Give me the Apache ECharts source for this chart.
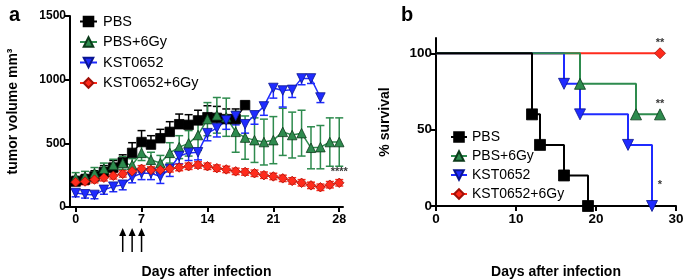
<!DOCTYPE html>
<html>
<head>
<meta charset="utf-8">
<script src="https://cdn.jsdelivr.net/npm/echarts@6/dist/echarts.min.js"></script>
<style>
html, body { margin: 0; padding: 0; background: #fff; }
#chart { width: 685px; height: 279px; }
</style>
</head>
<body>
<div id="chart"></div>
<script>
const groups = ['PBS', 'PBS+6Gy', 'KST0652', 'KST0652+6Gy']

// panel a: tumor volume (mm3), one value per day starting at day 0
const pbsVol = [200, 215, 240, 275, 310, 350, 425, 510, 490, 540, 590, 650, 645, 680, 705, 700, 690, 690, 800]
const pbsErr = [40, 40, 45, 50, 55, 60, 80, 90, 70, 70, 80, 80, 80, 80, 90, 90, 80, 80, 30]
const pbs6Vol = [230, 240, 265, 300, 330, 345, 330, 425, 370, 345, 425, 470, 500, 565, 690, 720, 705, 590, 545, 525, 510, 525, 590, 565, 580, 465, 470, 510, 510]
const pbs6Err = [40, 40, 45, 45, 45, 50, 50, 60, 60, 60, 80, 90, 100, 120, 130, 140, 150, 160, 170, 175, 180, 185, 185, 180, 180, 165, 170, 190, 190]
const kstVol = [110, 100, 95, 135, 160, 175, 235, 265, 265, 240, 300, 400, 425, 430, 580, 620, 680, 715, 650, 720, 790, 935, 915, 920, 1010, 1010, 860]
const kstErr = [30, 30, 30, 35, 40, 40, 45, 50, 50, 55, 60, 60, 60, 60, 60, 70, 70, 70, 70, 70, 70, 80, 130, 60, 50, 40, 40]
const kst6Vol = [195, 200, 215, 230, 245, 260, 280, 300, 290, 290, 300, 310, 320, 330, 320, 305, 295, 280, 275, 265, 250, 240, 225, 205, 190, 170, 155, 175, 190]
const kst6Err = [25, 25, 25, 25, 25, 25, 25, 25, 25, 25, 25, 25, 25, 25, 25, 25, 25, 25, 25, 25, 25, 25, 25, 25, 25, 25, 25, 25, 25]
const dayTicks = [0, 7, 14, 21, 28]
const volTicks = [0, 500, 1000, 1500]
const arrowDays = [5, 6, 7]
const sigA = [[28, 275, '****']]

// panel b: survival (%)
const pbsSurvDays = [0, 12, 13, 16, 19]
const pbsSurv = [100, 60, 40, 20, 0]
const pbs6SurvDays = [0, 18, 25, 28]
const pbs6Surv = [100, 80, 60, 60]
const kstSurvDays = [0, 16, 18, 24, 27]
const kstSurv = [100, 80, 60, 40, 0]
const kst6SurvDays = [0, 28]
const kst6Surv = [100, 100]
const survDayTicks = [0, 10, 20, 30]
const survTicks = [0, 50, 100]
const sigB = [[28, 107, '**'], [28, 67, '**'], [28, 14, '*']]

const colors = { pbs: '#000000', pbs6: '#2e8b4e', kst: '#1f2bff', kst6: '#ff2b1c' }
const invTri = 'path://M0,0 L10,0 L5,9 Z'
const font = "'Liberation Sans', Arial, sans-serif"

const chart = echarts.init(document.getElementById('chart'))

const axisCommon = {
  axisLine: { show: true, onZero: false, lineStyle: { color: '#000', width: 2 } },
  axisTick: { show: true, length: 5, lineStyle: { color: '#000', width: 2 } },
  splitLine: { show: false },
  nameMoveOverlap: false,
  nameTextStyle: { fontFamily: font, fontWeight: 'bold', fontSize: 14, color: '#000' }
}

const tickLabel = (vals, size, margin) => ({
  customValues: vals, formatter: v => String(v),
  fontFamily: font, fontWeight: 'bold', fontSize: size, color: '#000', margin
})

const volSeries = (name, vals, color, symbol, border) => ({
  type: 'line', name, xAxisIndex: 0, yAxisIndex: 0,
  data: vals.map((v, i) => [i, v]),
  symbol, symbolSize: 9.5,
  lineStyle: { color, width: 1.5 },
  itemStyle: { color, borderColor: border, borderWidth: 0.8 },
  z: 3
})

const errSeries = (vals, errs, dir, color) => ({
  type: 'custom', name: 'err', xAxisIndex: 0, yAxisIndex: 0, silent: true,
  data: vals.map((v, i) => [i, v, errs[i]]),
  renderItem: (params, api) => {
    const x = api.value(0), v = api.value(1), e = api.value(2)
    const top = api.coord([x, dir >= 0 ? v + e : v])
    const bot = api.coord([x, dir <= 0 ? v - e : v])
    const st = { stroke: color, lineWidth: 1.5 }
    const kids = [{ type: 'line', shape: { x1: top[0], y1: top[1], x2: bot[0], y2: bot[1] }, style: st }]
    if (dir >= 0) kids.push({ type: 'line', shape: { x1: top[0] - 4, y1: top[1], x2: top[0] + 4, y2: top[1] }, style: st })
    if (dir <= 0) kids.push({ type: 'line', shape: { x1: bot[0] - 4, y1: bot[1], x2: bot[0] + 4, y2: bot[1] }, style: st })
    return { type: 'group', children: kids }
  },
  z: 2
})

const survSeries = (name, days, vals, color, symbol, border, z) => ({
  type: 'line', name, xAxisIndex: 1, yAxisIndex: 1, step: 'end',
  data: days.map((d, i) => [d, vals[i]]),
  symbol, symbolSize: (val, p) => (p.dataIndex === 0 ? 0 : 11),
  lineStyle: { color, width: 2 },
  itemStyle: { color, borderColor: border, borderWidth: 0.8 },
  z
})

const sigSeries = (list, xi, yi) => ({
  type: 'scatter', name: 'sig', xAxisIndex: xi, yAxisIndex: yi, silent: true,
  data: list.map(s => ({ value: [s[0], s[1]], label: { formatter: s[2] } })),
  symbolSize: 1, itemStyle: { color: 'rgba(0,0,0,0)' },
  label: { show: true, position: 'inside', color: '#000', fontFamily: font, fontWeight: 'bold', fontSize: 11 },
  z: 6
})

chart.setOption({
  animation: false,
  backgroundColor: '#fff',
  title: [
    { text: 'a', left: 4, top: 0, textStyle: { fontFamily: font, fontSize: 20, fontWeight: 'bold', color: '#000' } },
    { text: 'b', left: 396, top: 0, textStyle: { fontFamily: font, fontSize: 20, fontWeight: 'bold', color: '#000' } }
  ],
  grid: [
    { left: 70, top: 16, width: 273, height: 191, outerBoundsMode: 'none' },
    { left: 436, top: 38, width: 240, height: 168, outerBoundsMode: 'none' }
  ],
  legend: [
    {
      orient: 'vertical', data: groups, selectedMode: false, left: 79, top: 14, padding: 0,
      itemWidth: 17, itemHeight: 12, itemGap: 5.5,
      textStyle: { fontFamily: font, fontSize: 14.5, color: '#000', padding: [0, 0, 0, 1] }
    },
    {
      orient: 'vertical', data: groups, selectedMode: false, left: 450, top: 130, padding: 0,
      itemWidth: 16, itemHeight: 12, itemGap: 5,
      textStyle: { fontFamily: font, fontSize: 14, color: '#000', padding: [0, 0, 0, 0] }
    }
  ],
  xAxis: [
    Object.assign({}, axisCommon, {
      type: 'value', gridIndex: 0, min: -0.6, max: 28.4,
      name: 'Days after infection', nameLocation: 'middle', nameGap: 58,
      axisTick: Object.assign({}, axisCommon.axisTick, { customValues: dayTicks }),
      axisLabel: tickLabel(dayTicks, 12.5, 6)
    }),
    Object.assign({}, axisCommon, {
      type: 'value', gridIndex: 1, min: 0, max: 30,
      name: 'Days after infection', nameLocation: 'middle', nameGap: 59,
      axisTick: Object.assign({}, axisCommon.axisTick, { customValues: survDayTicks }),
      axisLabel: tickLabel(survDayTicks, 13.5, 6)
    })
  ],
  yAxis: [
    Object.assign({}, axisCommon, {
      type: 'value', gridIndex: 0, min: 0, max: 1500,
      name: 'tumor volume mm³', nameLocation: 'middle', nameGap: 50,
      axisTick: Object.assign({}, axisCommon.axisTick, { customValues: volTicks }),
      axisLabel: tickLabel(volTicks, 12, 4)
    }),
    Object.assign({}, axisCommon, {
      type: 'value', gridIndex: 1, min: 0, max: 110,
      name: '% survival', nameLocation: 'middle', nameGap: 44,
      axisTick: Object.assign({}, axisCommon.axisTick, { customValues: survTicks }),
      axisLabel: tickLabel(survTicks, 13.5, 4)
    })
  ],
  series: [
    volSeries('PBS', pbsVol, colors.pbs, 'rect', '#000'),
    volSeries('PBS+6Gy', pbs6Vol, colors.pbs6, 'triangle', '#0b3a1a'),
    volSeries('KST0652', kstVol, colors.kst, invTri, '#0a1590'),
    volSeries('KST0652+6Gy', kst6Vol, colors.kst6, 'diamond', '#a01008'),
    errSeries(pbsVol, pbsErr, 1, colors.pbs),
    errSeries(pbs6Vol, pbs6Err, 0, colors.pbs6),
    errSeries(kstVol, kstErr, -1, colors.kst),
    errSeries(kst6Vol, kst6Err, 0, colors.kst6),
    survSeries('PBS', pbsSurvDays, pbsSurv, colors.pbs, 'rect', '#000', 8),
    survSeries('PBS+6Gy', pbs6SurvDays, pbs6Surv, colors.pbs6, 'triangle', '#0b3a1a', 7),
    survSeries('KST0652', kstSurvDays, kstSurv, colors.kst, invTri, '#0a1590', 6),
    survSeries('KST0652+6Gy', kst6SurvDays, kst6Surv, colors.kst6, 'diamond', '#a01008', 5),
    sigSeries(sigA, 0, 0),
    sigSeries(sigB, 1, 1)
  ]
})

// injection arrows below the day axis
chart.setOption({
  graphic: arrowDays.map(d => {
    const x = chart.convertToPixel({ xAxisIndex: 0 }, d)
    return {
      type: 'group',
      children: [
        { type: 'line', shape: { x1: x, y1: 252, x2: x, y2: 234 }, style: { stroke: '#000', lineWidth: 1.5 } },
        { type: 'polygon', shape: { points: [[x - 3.5, 236], [x + 3.5, 236], [x, 228]] }, style: { fill: '#000' } }
      ]
    }
  })
})
</script>
</body>
</html>
